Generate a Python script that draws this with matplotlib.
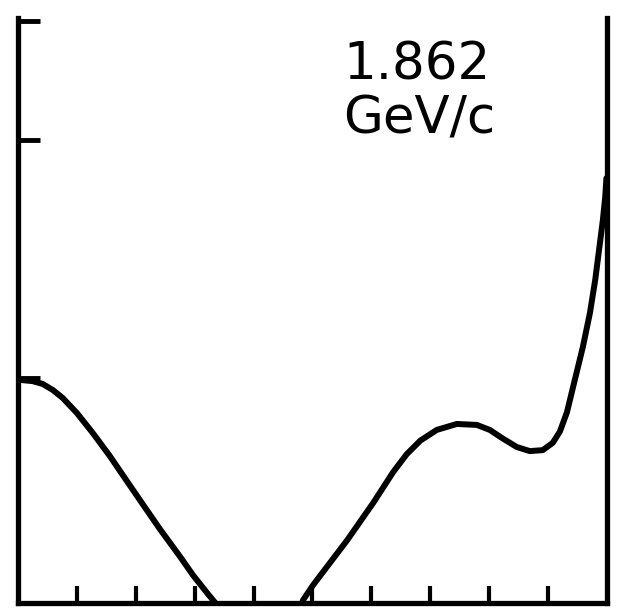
import matplotlib
matplotlib.use("Agg")
import matplotlib.pyplot as plt

# curve (x in tick units 0..10, y in left-axis units)
x_left = [0.00, 0.25, 0.42, 0.59, 0.76, 1.00, 1.27, 1.56, 1.73, 2.07, 2.41, 2.75, 2.97,
          3.21, 3.40, 3.60]
y_left = [0.993, 0.987, 0.975, 0.950, 0.916, 0.853, 0.769, 0.672, 0.610, 0.487, 0.365,
          0.250, 0.172, 0.097, 0.040, -0.10]

x_right = [4.62, 4.84, 5.01, 5.59, 6.03, 6.37, 6.60, 6.83, 7.11, 7.45, 7.79, 8.01, 8.23,
           8.47, 8.69, 8.91, 9.08, 9.20, 9.32, 9.42, 9.59, 9.71, 9.80, 9.88, 9.93, 9.97, 9.99]
y_right = [-0.10, 0.067, 0.130, 0.319, 0.475, 0.605, 0.680, 0.737, 0.782, 0.807, 0.803,
           0.782, 0.746, 0.710, 0.693, 0.697, 0.728, 0.775, 0.856, 0.958, 1.130, 1.273,
           1.412, 1.567, 1.664, 1.761, 1.840]

x_ticks = [1, 2, 3, 4, 5, 6, 7, 8, 9]
y_ticks = [1.0, 2.0, 2.5]
label = "1.862\nGeV/c"

fig = plt.figure(figsize=(6.23, 6.15), dpi=100)
ax = fig.add_axes([0.0289, 0.0195, 0.9454, 0.9512])

ax.plot(x_left, y_left, color="black", lw=4.3, solid_capstyle="round",
        solid_joinstyle="round")
ax.plot(x_right, y_right, color="black", lw=4.3, solid_capstyle="round",
        solid_joinstyle="round")

ax.set_xlim(0, 10)
ax.set_ylim(0.0546, 2.513)
ax.set_xticks(x_ticks)
ax.set_yticks(y_ticks)
ax.set_xticklabels([])
ax.set_yticklabels([])
ax.tick_params(axis="x", direction="in", length=12, width=3, color="black")
ax.tick_params(axis="y", direction="in", length=16, width=3.5, color="black")

ax.spines["top"].set_visible(False)
for s in ["left", "right", "bottom"]:
    ax.spines[s].set_linewidth(3.8)
    ax.spines[s].set_color("black")

ax.text(0.552, 0.962, label, transform=ax.transAxes, ha="left", va="top",
        fontsize=37, color="black", linespacing=1.1)

fig.savefig("out.png", dpi=100)
